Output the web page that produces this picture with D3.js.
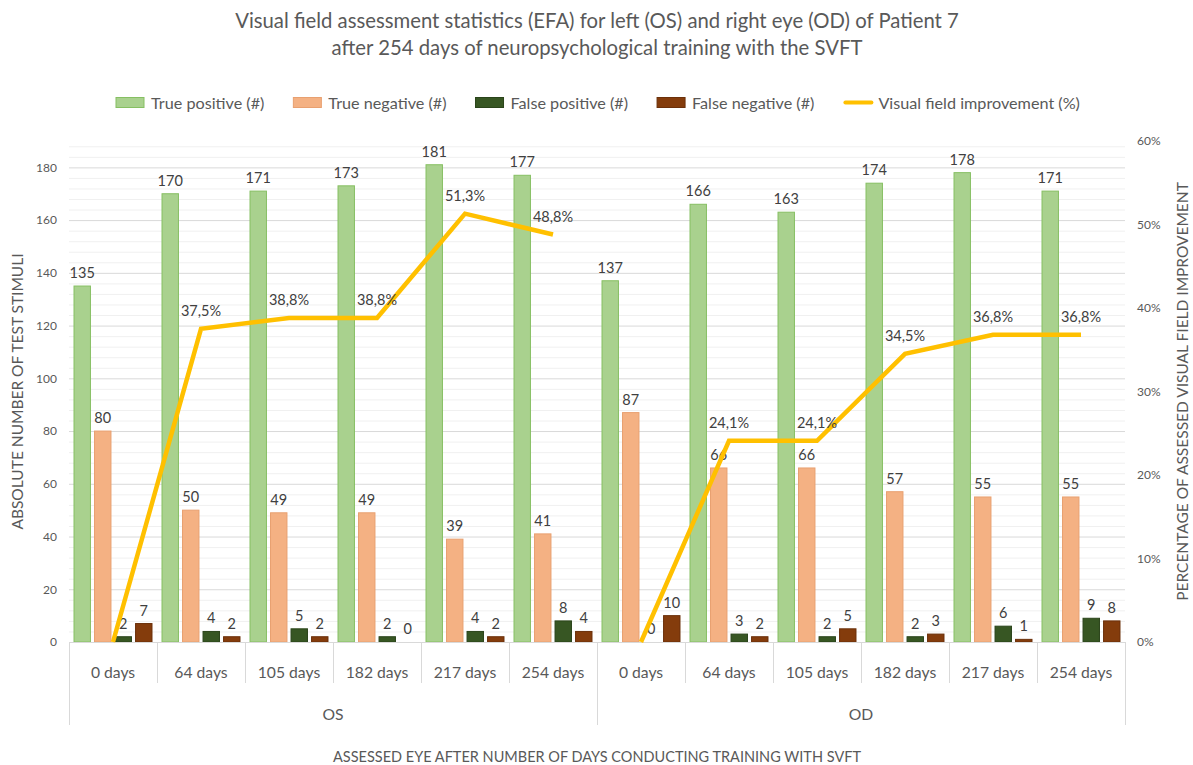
<!DOCTYPE html>
<html>
<head>
<meta charset="utf-8">
<script src="https://cdn.jsdelivr.net/npm/d3@7"></script>
<style>
  body { margin: 0; background: #fff; }
  svg { display: block; font-family: Lato, "Open Sans", sans-serif; }
</style>
</head>
<body>
<svg id="chart" width="1193" height="765"></svg>
<script>
// ---- data ----
const titleLines = ["Visual field assessment statistics (EFA) for left (OS) and right eye (OD) of Patient 7",
                    "after 254 days of neuropsychological training with the SVFT"];
const eyes = ["OS", "OD"];
const days = ["0 days", "64 days", "105 days", "182 days", "217 days", "254 days"];
const seriesNames = ["True positive (#)", "True negative (#)", "False positive (#)", "False negative (#)"];
const lineName = "Visual field improvement (%)";
const truePositive  = [135, 170, 171, 173, 181, 177, 137, 166, 163, 174, 178, 171];
const trueNegative  = [80, 50, 49, 49, 39, 41, 87, 66, 66, 57, 55, 55];
const falsePositive = [2, 4, 5, 2, 4, 8, 0, 3, 2, 2, 6, 9];
const falseNegative = [7, 2, 2, 0, 2, 4, 10, 2, 5, 3, 1, 8];
const improvementOS = [0, 37.5, 38.8, 38.8, 51.3, 48.8];
const improvementOD = [0, 24.1, 24.1, 34.5, 36.8, 36.8];
const leftTicks = [0, 20, 40, 60, 80, 100, 120, 140, 160, 180];
const rightTicks = [0, 10, 20, 30, 40, 50, 60];
const yTitleLeft = "ABSOLUTE NUMBER OF TEST STIMULI";
const yTitleRight = "PERCENTAGE OF ASSESSED VISUAL FIELD IMPROVEMENT";
const xTitle = "ASSESSED EYE AFTER NUMBER OF DAYS CONDUCTING TRAINING WITH SVFT";

// ---- styles ----
const fills = ["#A9D18E", "#F4B183", "#375623", "#843C0C"];
const strokes = ["#86BF62", "#E8A070", "#2A441A", "#6B300A"];
const lineColor = "#FFC000";
const textColor = "#595959";
const labelColor = "#404040";

const svg = d3.select("#chart");
const m = { left: 69, right: 1125, top: 141, bottom: 642 };

const keys = [];
eyes.forEach(e => days.forEach(d => keys.push(e + "|" + d)));
const seriesData = [truePositive, trueNegative, falsePositive, falseNegative];

const x = d3.scaleBand().domain(keys).range([m.left, m.right]).paddingInner(0).paddingOuter(0);
const xs = d3.scaleBand().domain(d3.range(4)).range([0, x.bandwidth()]).paddingInner(0.15).paddingOuter(0.22);
const y = d3.scaleLinear().domain([0, 190]).range([m.bottom, m.top]);
const y2 = d3.scaleLinear().domain([0, 60]).range([m.bottom, m.top]);

// gridlines
const minor = d3.range(0, 190, 4).filter(v => v % 20 !== 0);
svg.append("g").selectAll("line").data(minor).join("line")
  .attr("x1", m.left).attr("x2", m.right)
  .attr("y1", d => y(d) + 0.5).attr("y2", d => y(d) + 0.5)
  .attr("stroke", "#F0F0F0").attr("stroke-width", 1);
svg.append("g").selectAll("line").data(leftTicks.slice(1)).join("line")
  .attr("x1", m.left).attr("x2", m.right)
  .attr("y1", d => y(d) + 0.5).attr("y2", d => y(d) + 0.5)
  .attr("stroke", "#D9D9D9").attr("stroke-width", 1);

// left axis
const yAxis = d3.axisLeft(y).tickValues(leftTicks).tickSize(0).tickPadding(12);
const gy = svg.append("g").attr("transform", `translate(${m.left},0)`).call(yAxis);
gy.select(".domain").remove();
gy.selectAll("text").attr("fill", textColor).style("font-size", "12px").style("font-family", "Lato");

// right axis
const y2Axis = d3.axisRight(y2).tickValues(rightTicks).tickSize(0).tickPadding(12)
  .tickFormat(d => d + "%");
const gy2 = svg.append("g").attr("transform", `translate(${m.right},0)`).call(y2Axis);
gy2.select(".domain").remove();
gy2.selectAll("text").attr("fill", textColor).style("font-size", "12px").style("font-family", "Lato");

// bars
seriesData.forEach((vals, si) => {
  svg.append("g").selectAll("rect").data(vals).join("rect")
    .attr("x", (d, i) => x(keys[i]) + xs(si) + 0.5)
    .attr("y", d => y(d))
    .attr("width", xs.bandwidth() - 1)
    .attr("height", d => y(0) - y(d))
    .attr("fill", fills[si])
    .attr("stroke", d => d > 0 ? strokes[si] : "none")
    .attr("stroke-width", 1);
  svg.append("g").selectAll("text").data(vals).join("text")
    .attr("x", (d, i) => x(keys[i]) + xs(si) + xs.bandwidth() / 2)
    .attr("y", d => y(d) - 8)
    .attr("text-anchor", "middle")
    .attr("fill", labelColor)
    .style("font-size", "14.5px")
    .text(d => d);
});

// x axis: baseline + separators
svg.append("line").attr("x1", m.left).attr("x2", m.right)
  .attr("y1", m.bottom + 0.5).attr("y2", m.bottom + 0.5)
  .attr("stroke", "#D9D9D9");
const bounds = keys.map(k => x(k)).concat([m.right]);
svg.append("g").selectAll("line").data(bounds).join("line")
  .attr("x1", d => d + 0.5).attr("x2", d => d + 0.5)
  .attr("y1", m.bottom)
  .attr("y2", (d, i) => (i % 6 === 0) ? 725 : 683)
  .attr("stroke", "#D9D9D9");
svg.append("g").selectAll("text").data(keys).join("text")
  .attr("x", d => x(d) + x.bandwidth() / 2)
  .attr("y", 678)
  .attr("text-anchor", "middle")
  .attr("fill", textColor)
  .style("font-size", "15.7px")
  .text(d => d.split("|")[1]);
svg.append("g").selectAll("text").data(eyes).join("text")
  .attr("x", e => (x(e + "|" + days[0]) + x(e + "|" + days[5]) + x.bandwidth()) / 2)
  .attr("y", 720)
  .attr("text-anchor", "middle")
  .attr("fill", textColor)
  .style("font-size", "15.7px")
  .text(e => e);

// lines
const line = d3.line().x(d => d[0]).y(d => y2(d[1]));
[improvementOS, improvementOD].forEach((vals, ei) => {
  const pts = vals.map((v, i) => [x(eyes[ei] + "|" + days[i]) + x.bandwidth() / 2, v]);
  svg.append("path").datum(pts).attr("d", line)
    .attr("fill", "none").attr("stroke", lineColor).attr("stroke-width", 4.5)
    .attr("stroke-linejoin", "miter");
  svg.append("g").selectAll("text").data(pts.filter(p => p[1] > 0)).join("text")
    .attr("x", p => p[0])
    .attr("y", p => y2(p[1]) - 13)
    .attr("text-anchor", "middle")
    .attr("fill", labelColor)
    .style("font-size", "14.5px")
    .text(p => d3.format(".1f")(p[1]).replace(".", ",") + "%");
});

// axis titles
svg.append("text")
  .attr("transform", `translate(23,${(m.top + m.bottom) / 2}) rotate(-90)`)
  .attr("text-anchor", "middle").attr("fill", textColor)
  .style("font-size", "15.5px").text(yTitleLeft);
svg.append("text")
  .attr("transform", `translate(1188,${(m.top + m.bottom) / 2}) rotate(-90)`)
  .attr("text-anchor", "middle").attr("fill", textColor)
  .style("font-size", "15.5px").text(yTitleRight);
svg.append("text")
  .attr("x", (m.left + m.right) / 2).attr("y", 762)
  .attr("text-anchor", "middle").attr("fill", textColor)
  .style("font-size", "14.5px").text(xTitle);

// title
svg.append("g").selectAll("text").data(titleLines).join("text")
  .attr("x", 597).attr("y", (d, i) => 28 + i * 27)
  .attr("text-anchor", "middle").attr("fill", textColor)
  .style("font-size", "20.3px").text(d => d);

// legend (laid out sequentially from measured text widths)
const legendItems = seriesNames.map((n, i) => ({ name: n, type: "rect", c: i }))
  .concat([{ name: lineName, type: "line" }]);
const lg = svg.append("g");
let cx = 116;
legendItems.forEach(it => {
  if (it.type === "rect") {
    lg.append("rect").attr("x", cx).attr("y", 97.5).attr("width", 28).attr("height", 10)
      .attr("fill", fills[it.c]).attr("stroke", strokes[it.c]);
  } else {
    lg.append("line").attr("x1", cx + 2).attr("x2", cx + 28).attr("y1", 102.5).attr("y2", 102.5)
      .attr("stroke", lineColor).attr("stroke-width", 4).attr("stroke-linecap", "round");
  }
  const t = lg.append("text").attr("x", cx + 35).attr("y", 108.5)
    .attr("fill", textColor).style("font-size", "16.2px").text(it.name);
  cx += 35 + t.node().getComputedTextLength() + 29;
});
</script>
</body>
</html>
